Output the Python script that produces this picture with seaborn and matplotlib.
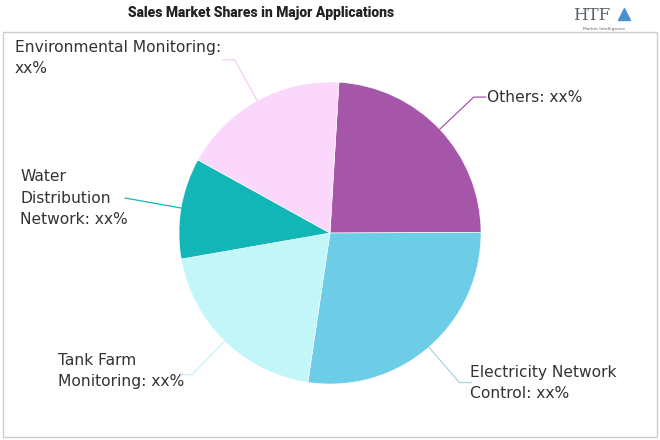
import numpy as np
import matplotlib
matplotlib.use("Agg")
import matplotlib.pyplot as plt
import seaborn as sns
from matplotlib.patches import Rectangle

# data (clockwise from the top)
categories = ["Others", "Electricity Network Control", "Tank Farm Monitoring",
              "Water Distribution Network", "Environmental Monitoring"]
label_texts = ["Others: xx%", "Electricity Network\nControl: xx%", "Tank Farm\nMonitoring: xx%",
               "Water\nDistribution\nNetwork: xx%", "Environmental Monitoring:\nxx%"]
shares = [24.0, 27.4, 19.9, 10.8, 17.9]
colors = ["#A556A8", "#6DCCE6", "#C2F6F9", "#13B6B6", "#FBD8FB"]
line_colors = ["#A556A8", "#A8D5DF", "#C2F6F9", "#13B6B6", "#F7CDF4"]

sns.set_theme(style="white")
plt.rcParams["font.family"] = ["DejaVu Sans"]

W, H = 660, 440
fig = plt.figure(figsize=(6.6, 4.4), dpi=100)
ax = fig.add_axes([0, 0, 1, 1])

cx, cy, r = 330, H - 233, 151
wedges, _ = ax.pie(shares, colors=colors, startangle=86.6, counterclock=False,
                   center=(cx, cy), radius=r, frame=True,
                   wedgeprops=dict(edgecolor="white", linewidth=0.4))
ax.set_xlim(0, W)
ax.set_ylim(0, H)
ax.set_aspect("equal")
ax.axis("off")

# text anchor for each label: (x_left, y_center_pixel)
text_pos = [(487, 97), (470, 383), (58, 371), (20, 198), (15, 58)]
for w, txt, lc, (tx, ty) in zip(wedges, label_texts, line_colors, text_pos):
    mid = np.deg2rad((w.theta1 + w.theta2) / 2)
    x0, y0 = cx + r * np.cos(mid), cy + r * np.sin(mid)
    if txt.startswith("Water"):
        ax.plot([x0, 125], [y0, H - 198], color=lc, lw=0.9)
    else:
        x1, y1 = cx + 1.31 * r * np.cos(mid), cy + 1.31 * r * np.sin(mid)
        side = 1 if np.cos(mid) > 0 else -1
        ax.plot([x0, x1, x1 + side * 12], [y0, y1, y1], color=lc, lw=0.9)
    ax.text(tx, H - ty, txt, ha="left", va="center", fontsize=11.2,
            color="#333333", linespacing=1.55)

# frame
ax.add_patch(Rectangle((3, 3), 654, H - 35, fill=False, edgecolor="#CCCCCC", lw=1))

# title
ax.text(261, H - 13, "Sales Market Shares in Major Applications", ha="center", va="center",
        fontsize=10, fontweight="black", family=["Roboto", "DejaVu Sans"],
        color="#222222")

# logo
ax.text(592, H - 15, "HTF", ha="center", va="center", fontsize=12,
        family=["DejaVu Serif"], color="#55606A")
ax.plot([624], [H - 14], marker="^", color="#4A8FD0", markersize=9)
ax.text(604, H - 29, "Market Intelligence", ha="center", va="center", fontsize=3.2,
        color="#666666")

fig.savefig("out.png", dpi=100)
